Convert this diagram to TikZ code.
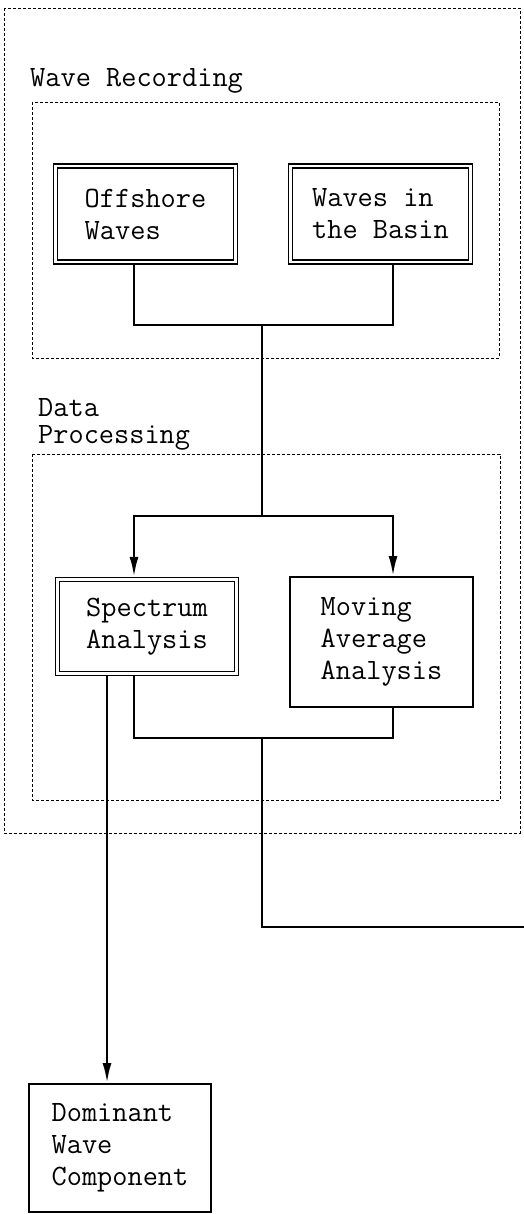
\documentclass[tikz,border=0pt]{standalone}
\usepackage{tikz}
\usetikzlibrary{arrows.meta}

\begin{document}
\begin{tikzpicture}[x=1pt,y=-1pt,
	every node/.style={font=\ttfamily\fontsize{29.5}{32}\selectfont, align=left},
	dblbox/.style={draw, double, line width=1.4pt, double distance=2.4pt, outer sep=2.6pt},
	box/.style={draw, line width=1.9pt, outer sep=0.95pt},
	group/.style={draw, line width=0.9pt, dash pattern=on 3pt off 2pt},
	link/.style={line width=2.5pt},
	flow/.style={line width=2.5pt, -{Latex[length=20pt,width=9pt]}}]
	
	\useasboundingbox (0,0) rectangle (524,1214);
	
	% groups
	\draw[group] (4,8) rectangle (520,833);
	\draw[group] (32,102) rectangle (499,358);
	\draw[group] (32,454) rectangle (500,800);
	\node[anchor=base west, inner sep=0pt] (reclabel) at (30,87) {Wave Recording};
	\node[anchor=north west, inner sep=0pt, font=\ttfamily\fontsize{29.5}{27}\selectfont] (proclabel) at (38,398) {Data\\Processing};
	
	% boxes
	\node[dblbox, minimum width=180pt, minimum height=96pt] (off) at (145.5,214) {Offshore\\Waves};
	\node[dblbox, minimum width=180pt, minimum height=96pt] (bas) at (380.5,214) {Waves in\\the Basin};
	\node[dblbox, minimum width=179pt, minimum height=94pt] (spec) at (147,626.5) {Spectrum\\Analysis};
	\node[box, minimum width=183pt, minimum height=130pt] (mov) at (381.5,642) {Moving\\Average\\Analysis};
	\node[box, minimum width=182pt, minimum height=128pt] (dom) at (120,1148) {Dominant\\Wave\\Component};
	
	\coordinate (colL) at (134,0);
	\coordinate (colR) at (393,0);
	\coordinate (colD) at (107,0);
	\coordinate (rec) at (262,325);
	\coordinate (split) at (262,516);
	\coordinate (merge) at (262,738);
	\coordinate (bend) at (262,927);
	\coordinate (exit) at (526,927);
	
	% connectors
	\draw[link] (off.south -| colL) |- (rec) -| (bas.south -| colR);
	\draw[link] (rec) -- (split);
	\draw[flow] (split) -| (spec.north -| colL);
	\draw[flow] (split) -| (mov.north -| colR);
	\draw[link] (spec.south -| colL) |- (merge) -| (mov.south -| colR);
	\draw[link] (merge) -- (bend) -- (exit);
	\draw[flow] (spec.south -| colD) -- (dom.north -| colD);
\end{tikzpicture}
\end{document}
